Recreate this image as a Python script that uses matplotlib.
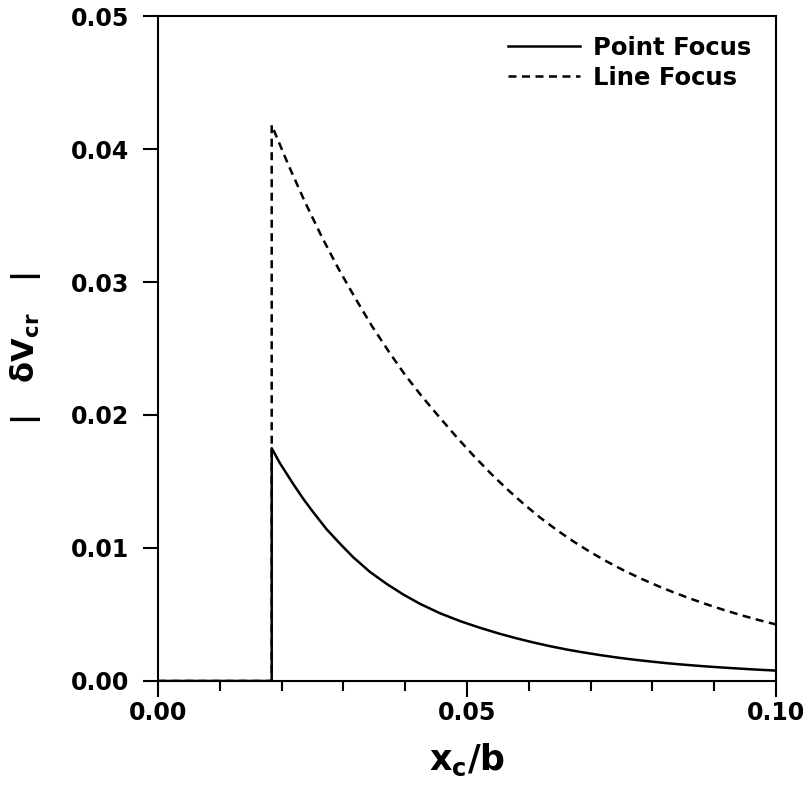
import numpy as np
import matplotlib
matplotlib.use("Agg")
import matplotlib.pyplot as plt
from matplotlib.ticker import MultipleLocator, FixedLocator

plt.rcParams['font.family'] = ['DejaVu Sans']
plt.rcParams['font.weight'] = 'bold'
plt.rcParams['mathtext.default'] = 'regular'

# point focus curve
point_x = [0.0, 0.0184, 0.0184, 0.0197, 0.0219, 0.0235, 0.0251, 0.0273,
           0.0295, 0.0316, 0.0343, 0.0370, 0.0397, 0.0424, 0.0456, 0.0489,
           0.0521, 0.0553, 0.0580, 0.0607, 0.0634, 0.0661, 0.0688, 0.0715,
           0.0742, 0.0769, 0.0796, 0.0823, 0.0850, 0.0877, 0.0904, 0.0931,
           0.0963, 0.1000]
point_y = [0.0, 0.0, 0.0175, 0.0164, 0.0148, 0.0137, 0.0127, 0.0114,
           0.0103, 0.0093, 0.0082, 0.0073, 0.0065, 0.0058, 0.0051, 0.0045,
           0.0040, 0.00355, 0.00321, 0.0029, 0.00262, 0.00237, 0.00215,
           0.00195, 0.00177, 0.00161, 0.00147, 0.00134, 0.00123, 0.00113,
           0.00104, 0.00096, 0.00087, 0.00078]

# line focus curve
line_x = [0.0, 0.0184, 0.0184, 0.0211, 0.0238, 0.0265, 0.0292, 0.0319,
          0.0346, 0.0373, 0.0400, 0.0427, 0.0456, 0.0483, 0.0510, 0.0537,
          0.0564, 0.0591, 0.0618, 0.0645, 0.0672, 0.0699, 0.0726, 0.0753,
          0.0780, 0.0807, 0.0834, 0.0861, 0.0888, 0.0915, 0.0942, 0.0969,
          0.1000]
line_y = [0.0, 0.0, 0.0418, 0.0388, 0.0360, 0.0334, 0.0310, 0.0288,
          0.0267, 0.0248, 0.0230, 0.0214, 0.0198, 0.01835, 0.01697, 0.01567,
          0.01446, 0.01334, 0.0123, 0.01136, 0.0105, 0.00971, 0.00899,
          0.00833, 0.00773, 0.00718, 0.00667, 0.0062, 0.00576, 0.00535,
          0.00497, 0.00462, 0.00425]

x_ticks = [0.0, 0.05, 0.10]
x_ticklabels = ["0.00", "0.05", "0.10"]
y_ticks = [0.0, 0.01, 0.02, 0.03, 0.04, 0.05]
y_ticklabels = ["0.00", "0.01", "0.02", "0.03", "0.04", "0.05"]

fig = plt.figure(figsize=(8.04, 7.85), dpi=100)
ax = fig.add_axes([0.1965, 0.1325, 0.7687, 0.8471])

ax.plot(line_x, line_y, color='black', lw=1.8, linestyle=(0, (3.2, 2.2)),
        label='Line Focus', zorder=2)
ax.plot(point_x, point_y, color='black', lw=1.8, label='Point Focus', zorder=3)

ax.set_xlim(0, 0.1)
ax.set_ylim(0, 0.05)

ax.xaxis.set_major_locator(FixedLocator(x_ticks))
ax.set_xticklabels(x_ticklabels)
ax.xaxis.set_minor_locator(MultipleLocator(0.01))
ax.yaxis.set_major_locator(FixedLocator(y_ticks))
ax.set_yticklabels(y_ticklabels)

ax.tick_params(axis='x', which='major', direction='out', length=11.5,
               width=1.5, labelsize=17, pad=3)
ax.tick_params(axis='x', which='minor', direction='out', length=7, width=1.5)
ax.tick_params(axis='y', which='major', direction='out', length=11,
               width=1.5, labelsize=17, pad=10)
for lab in ax.get_xticklabels() + ax.get_yticklabels():
    lab.set_fontweight('bold')

for sp in ax.spines.values():
    sp.set_linewidth(1.5)

ax.set_xlabel(r'$x_c/b$', fontsize=25, fontweight='bold', labelpad=12)
ax.set_ylabel(r'|   $\delta V_{cr}$   |', fontsize=22, fontweight='bold',
              labelpad=20)

handles, labels = ax.get_legend_handles_labels()
leg = ax.legend(handles[::-1], labels[::-1], loc='upper right',
                bbox_to_anchor=(0.975, 0.985), frameon=False,
                prop={'size': 17.5, 'weight': 'bold'}, handlelength=3.0,
                handletextpad=0.5, labelspacing=0.25, borderaxespad=0)

fig.savefig('out.png', dpi=100)
